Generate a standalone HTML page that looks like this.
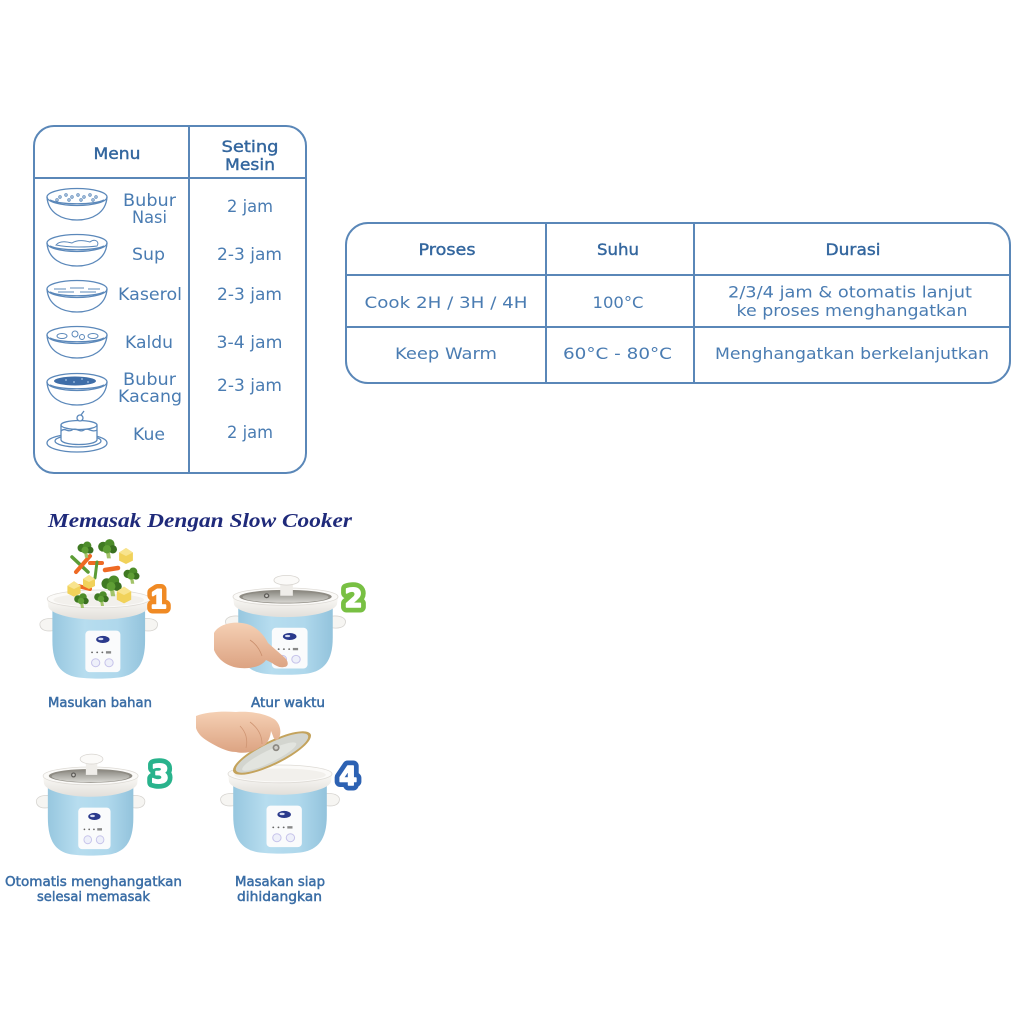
<!DOCTYPE html>
<html><head><meta charset="utf-8">
<style>html,body{margin:0;padding:0;background:#fff}svg{display:block}</style>
</head>
<body>
<svg width="1024" height="1024" viewBox="0 0 1024 1024" xmlns="http://www.w3.org/2000/svg" xmlns:xlink="http://www.w3.org/1999/xlink">
<defs>
 <linearGradient id="blue" x1="0" x2="1" y1="0" y2="0">
  <stop offset="0" stop-color="#97c7df"/><stop offset="0.35" stop-color="#b7ddef"/><stop offset="0.7" stop-color="#afd8ec"/><stop offset="1" stop-color="#93c3dc"/>
 </linearGradient>
 <linearGradient id="rim" x1="0" x2="0" y1="0" y2="1">
  <stop offset="0" stop-color="#fbfaf7"/><stop offset="1" stop-color="#e2dfda"/>
 </linearGradient>
 <linearGradient id="glass" x1="0" x2="0" y1="0" y2="1">
  <stop offset="0" stop-color="#8d8b84"/><stop offset="1" stop-color="#d8d7d2"/>
 </linearGradient>
 <linearGradient id="skin" x1="0" x2="0" y1="0" y2="1">
  <stop offset="0" stop-color="#f5d0b4"/><stop offset="1" stop-color="#dca382"/>
 </linearGradient>
 <g id="cbody">
  <path d="M14,30 C4,29 0,33 1,37 C2,42 8,43 14,42 Z" fill="#f6f5f2" stroke="#d6d4d0" stroke-width="0.8"/>
  <path d="M102,30 C112,29 116,33 115,37 C114,42 108,43 102,42 Z" fill="#f6f5f2" stroke="#d6d4d0" stroke-width="0.8"/>
  <path d="M13,22 L103,22 L103,52 C103,77 94,86 80,89 C68,91 48,91 36,89 C22,86 13,77 13,52 Z" fill="url(#blue)"/>
  <rect x="45" y="42" width="34" height="42" rx="4" fill="#fafbfc"/>
  <ellipse cx="62" cy="51" rx="6.5" ry="3.6" fill="#2b3a8c"/>
  <ellipse cx="60" cy="50.5" rx="2.5" ry="1.2" fill="#d7dcf2"/>
  <circle cx="51.5" cy="64" r="0.9" fill="#666"/><circle cx="56.5" cy="64" r="0.9" fill="#666"/><circle cx="61.5" cy="64" r="0.9" fill="#666"/>
  <rect x="65" y="62.8" width="5" height="2.4" fill="#888"/>
  <circle cx="55" cy="74.5" r="4" fill="#eef0fa" stroke="#c6c3ea" stroke-width="1"/>
  <circle cx="68" cy="74.5" r="4" fill="#eef0fa" stroke="#c6c3ea" stroke-width="1"/>
  <path d="M8,10 L9,18 C12,26 35,31 58,31 C81,31 104,26 107,18 L108,10 Z" fill="url(#rim)"/>
 </g>
 <g id="opentop">
  <ellipse cx="58" cy="10" rx="50" ry="9" fill="#fbfaf8" stroke="#dedbd6" stroke-width="0.8"/>
  <ellipse cx="58" cy="11" rx="44" ry="6.5" fill="#f2f0ec"/>
 </g>
 <g id="lidtop">
  <ellipse cx="58" cy="10" rx="50" ry="9" fill="#fbfaf8" stroke="#dedbd6" stroke-width="0.8"/>
  <ellipse cx="58" cy="10" rx="44" ry="7" fill="#8e8b83"/>
  <ellipse cx="58" cy="10.5" rx="41" ry="5.8" fill="url(#glass)"/>
  <circle cx="40" cy="9" r="2.6" fill="#5e5c58"/><circle cx="40" cy="9" r="1.3" fill="#c9c7c2"/>
  <path d="M53,9 L53,-5 L65,-5 L65,9 Z" fill="#efede9"/>
  <ellipse cx="59" cy="-7" rx="12" ry="5" fill="#fbfaf8" stroke="#d8d5d0" stroke-width="0.8"/>
 </g>
 <g id="bowl" fill="none" stroke="#5b88ba" stroke-width="1.3">
  <ellipse cx="77" cy="10" rx="30" ry="8.5"/>
  <path d="M50,13 C60,18 94,18 104,13"/>
  <path d="M47,10 C48,26 62,33 77,33 C92,33 106,26 107,10"/>
 </g>
 <g id="broc">
  <path d="M-1,2 L0,8 L3,8 L2,2Z" fill="#a3c46a"/>
  <circle cx="-3" cy="-1" r="3.8" fill="#3f7a22"/><circle cx="2" cy="-3" r="3.8" fill="#4d8c2a"/>
  <circle cx="4.5" cy="1" r="3.2" fill="#3a7020"/><circle cx="0" cy="1" r="3.2" fill="#5f9f35"/>
 </g>
 <g id="pot">
  <path d="M-6,-3 L0,-7 L6,-3 L6,4 L0,7 L-6,4 Z" fill="#f1d25a"/>
  <path d="M-6,-3 L0,-7 L6,-3 L0,0 Z" fill="#f8e48e"/>
 </g>
</defs>

<!-- TABLE 1 -->
<g fill="none" stroke="#5a87b8" stroke-width="2">
 <rect x="34" y="126" width="272" height="347" rx="20"/>
 <line x1="189" y1="126" x2="189" y2="473"/>
 <line x1="34" y1="178" x2="306" y2="178"/>
</g>
<g font-family="DejaVu Sans, sans-serif" text-anchor="middle">
 <g fill="#33669e" stroke="#33669e" stroke-width="0.4" font-size="16">
  <text x="117" y="159" textLength="47" lengthAdjust="spacingAndGlyphs">Menu</text>
  <text x="250" y="152" textLength="57" lengthAdjust="spacingAndGlyphs">Seting</text>
  <text x="250" y="170" textLength="50" lengthAdjust="spacingAndGlyphs">Mesin</text>
 </g>
 <g fill="#4a7cb2" font-size="16.5">
  <text x="149.5" y="206" textLength="53" lengthAdjust="spacingAndGlyphs">Bubur</text>
  <text x="149.5" y="223" textLength="35" lengthAdjust="spacingAndGlyphs">Nasi</text>
  <text x="250" y="212" textLength="46" lengthAdjust="spacingAndGlyphs">2 jam</text>
  <text x="148.5" y="260" textLength="33" lengthAdjust="spacingAndGlyphs">Sup</text>
  <text x="249.5" y="260" textLength="65" lengthAdjust="spacingAndGlyphs">2-3 jam</text>
  <text x="150" y="300" textLength="64" lengthAdjust="spacingAndGlyphs">Kaserol</text>
  <text x="249.5" y="300" textLength="65" lengthAdjust="spacingAndGlyphs">2-3 jam</text>
  <text x="149" y="348" textLength="48" lengthAdjust="spacingAndGlyphs">Kaldu</text>
  <text x="249.5" y="348" textLength="66" lengthAdjust="spacingAndGlyphs">3-4 jam</text>
  <text x="149.5" y="385" textLength="53" lengthAdjust="spacingAndGlyphs">Bubur</text>
  <text x="150" y="402" textLength="64" lengthAdjust="spacingAndGlyphs">Kacang</text>
  <text x="249.5" y="391" textLength="65" lengthAdjust="spacingAndGlyphs">2-3 jam</text>
  <text x="149" y="440" textLength="32" lengthAdjust="spacingAndGlyphs">Kue</text>
  <text x="250" y="438" textLength="46" lengthAdjust="spacingAndGlyphs">2 jam</text>
 </g>
</g>

<!-- bowls -->
<use xlink:href="#bowl" href="#bowl" transform="translate(0,187)"/>
<g fill="none" stroke="#5b88ba" stroke-width="1">
 <circle cx="60" cy="197" r="1.2"/><circle cx="66" cy="195" r="1.2"/><circle cx="72" cy="197" r="1.2"/><circle cx="78" cy="195" r="1.2"/><circle cx="84" cy="197" r="1.2"/><circle cx="90" cy="195" r="1.2"/><circle cx="96" cy="197" r="1.2"/><circle cx="69" cy="200" r="1.2"/><circle cx="81" cy="200" r="1.2"/><circle cx="93" cy="200" r="1.2"/><circle cx="57" cy="200" r="1.2"/>
</g>
<use xlink:href="#bowl" href="#bowl" transform="translate(0,233)"/>
<path d="M56,245 C60,240 68,242 72,243 C78,239 86,241 90,242 C95,238 100,242 97,246 C90,247 70,248 56,245 Z" fill="none" stroke="#5b88ba" stroke-width="1"/>
<use xlink:href="#bowl" href="#bowl" transform="translate(0,279)"/>
<g fill="none" stroke="#5b88ba" stroke-width="1">
 <path d="M54,289 L66,289 M70,288 L84,288 M88,289 L100,289 M58,292 L74,292 M80,292 L96,292"/>
</g>
<use xlink:href="#bowl" href="#bowl" transform="translate(0,325)"/>
<g fill="none" stroke="#5b88ba" stroke-width="1">
 <ellipse cx="62" cy="336" rx="5" ry="2.5"/><circle cx="75" cy="334" r="3"/><circle cx="82" cy="337" r="2.5"/><ellipse cx="93" cy="336" rx="5" ry="2.5"/>
</g>
<use xlink:href="#bowl" href="#bowl" transform="translate(0,372)"/>
<ellipse cx="75" cy="381" rx="21" ry="4.5" fill="#3f6ea8"/>
<g fill="#8fb0d6"><circle cx="66" cy="380" r="1"/><circle cx="74" cy="382" r="1"/><circle cx="82" cy="379" r="1"/><circle cx="88" cy="382" r="1"/></g>
<!-- cake -->
<g fill="none" stroke="#5b88ba" stroke-width="1.3">
 <ellipse cx="77" cy="443" rx="30" ry="9"/>
 <ellipse cx="78" cy="441" rx="23" ry="6"/>
 <path d="M61,425 L61,440 C63,446 95,446 97,440 L97,425" fill="#fff"/>
 <ellipse cx="79" cy="425" rx="18" ry="4.5" fill="#fff"/>
 <path d="M61,431 C65,427 68,433 72,430 C76,427 80,433 84,430 C88,427 92,433 97,430"/>
 <circle cx="80" cy="418" r="3" fill="#fff"/>
 <path d="M81,415 L84,411"/>
</g>

<!-- TABLE 2 -->
<g fill="none" stroke="#5a87b8" stroke-width="2">
 <rect x="346" y="223" width="664" height="160" rx="22"/>
 <line x1="546" y1="223" x2="546" y2="383"/>
 <line x1="694" y1="223" x2="694" y2="383"/>
 <line x1="346" y1="275" x2="1010" y2="275"/>
 <line x1="346" y1="327" x2="1010" y2="327"/>
</g>
<g font-family="DejaVu Sans, sans-serif" text-anchor="middle">
 <g fill="#33669e" stroke="#33669e" stroke-width="0.4" font-size="16">
  <text x="447" y="255" textLength="57" lengthAdjust="spacingAndGlyphs">Proses</text>
  <text x="618" y="255" textLength="42" lengthAdjust="spacingAndGlyphs">Suhu</text>
  <text x="853" y="255" textLength="55" lengthAdjust="spacingAndGlyphs">Durasi</text>
 </g>
 <g fill="#4a7cb2" font-size="16">
  <text x="446" y="308" textLength="163" lengthAdjust="spacingAndGlyphs">Cook 2H / 3H / 4H</text>
  <text x="618" y="308" textLength="51" lengthAdjust="spacingAndGlyphs">100°C</text>
  <text x="850" y="297.5" textLength="244" lengthAdjust="spacingAndGlyphs">2/3/4 jam &amp; otomatis lanjut</text>
  <text x="852" y="316" textLength="231" lengthAdjust="spacingAndGlyphs">ke proses menghangatkan</text>
  <text x="446" y="359" textLength="102" lengthAdjust="spacingAndGlyphs">Keep Warm</text>
  <text x="617.5" y="359" textLength="109" lengthAdjust="spacingAndGlyphs">60°C - 80°C</text>
  <text x="852" y="359" textLength="274" lengthAdjust="spacingAndGlyphs">Menghangatkan berkelanjutkan</text>
 </g>
</g>

<!-- TITLE -->
<text x="48" y="527" font-family="Liberation Serif, serif" font-weight="bold" font-style="italic" font-size="20" fill="#1f2a7a" textLength="304" lengthAdjust="spacingAndGlyphs">Memasak Dengan Slow Cooker</text>

<!-- COOKER 1 -->
<g transform="translate(39,589) scale(1.03,0.99)">
 <use xlink:href="#cbody" href="#cbody"/>
 <use xlink:href="#opentop" href="#opentop"/>
</g>
<!-- vegetables -->
<g stroke-linecap="round">
 <line x1="72" y1="557" x2="88" y2="572" stroke="#5c9c36" stroke-width="3.5"/>
 <line x1="76" y1="572" x2="90" y2="556" stroke="#ee6a24" stroke-width="4"/>
 <line x1="90" y1="563" x2="102" y2="563" stroke="#ee6a24" stroke-width="4"/>
 <line x1="97" y1="562" x2="95" y2="578" stroke="#5c9c36" stroke-width="3"/>
 <line x1="105" y1="570" x2="118" y2="568" stroke="#ee6a24" stroke-width="4.5"/>
 <line x1="78" y1="586" x2="90" y2="589" stroke="#ee6a24" stroke-width="4"/>
</g>
<use xlink:href="#broc" href="#broc" transform="translate(85,549) scale(1.1)"/>
<use xlink:href="#broc" href="#broc" transform="translate(107,548) scale(1.3)"/>
<use xlink:href="#pot" href="#pot" transform="translate(126,556) scale(1.15)"/>
<use xlink:href="#broc" href="#broc" transform="translate(131,575) scale(1.1)"/>
<use xlink:href="#broc" href="#broc" transform="translate(111,585) scale(1.4)"/>
<use xlink:href="#pot" href="#pot" transform="translate(89,582)"/>
<use xlink:href="#pot" href="#pot" transform="translate(74,589) scale(1.1)"/>
<use xlink:href="#pot" href="#pot" transform="translate(124,595) scale(1.2)"/>
<use xlink:href="#broc" href="#broc" transform="translate(101,598)"/>
<use xlink:href="#broc" href="#broc" transform="translate(81,600)"/>

<!-- COOKER 2 -->
<g transform="translate(224.6,587) scale(1.05,0.97)">
 <use xlink:href="#cbody" href="#cbody"/>
 <use xlink:href="#lidtop" href="#lidtop"/>
</g>
<path d="M214,633 C220,622 240,620 252,626 C260,630 265,637 268,643 L284,657 C289,661 289,667 284,667 C280,668 276,666 272,663 L266,660 C262,666 252,669 240,668 C228,667 218,660 214,650 Z" fill="url(#skin)"/>
<path d="M250,640 C256,644 260,650 262,656" fill="none" stroke="#c98e6c" stroke-width="0.8"/>

<!-- COOKER 3 -->
<g transform="translate(35.5,766) scale(0.95,0.99)">
 <use xlink:href="#cbody" href="#cbody"/>
 <use xlink:href="#lidtop" href="#lidtop"/>
</g>

<!-- COOKER 4 -->
<g transform="translate(219.7,764) scale(1.04,0.99)">
 <use xlink:href="#cbody" href="#cbody"/>
 <use xlink:href="#opentop" href="#opentop"/>
</g>
<g transform="translate(272,753) rotate(-26)">
 <ellipse cx="0" cy="0" rx="43" ry="12" fill="#c4a35c"/>
 <ellipse cx="0" cy="0" rx="40" ry="10" fill="#d3d5cf"/>
 <ellipse cx="-4" cy="2" rx="30" ry="6" fill="#e2e4df"/>
 <circle cx="6" cy="-3" r="3.5" fill="#8a8780"/><circle cx="6" cy="-3" r="1.8" fill="#d0cec8"/>
</g>
<path d="M196,716 C206,712 222,711 236,712 C252,711 266,714 274,719 C280,723 282,732 279,738 C277,741 274,740 273,736 L271,731 C270,740 266,746 260,747 C254,752 244,754 236,752 C226,752 214,745 206,740 C201,737 197,732 196,728 Z" fill="url(#skin)"/>
<path d="M250,722 C258,728 262,736 262,744 M240,726 C246,732 248,740 246,748" fill="none" stroke="#cf9573" stroke-width="0.8"/>

<!-- NUMBERS -->
<g font-weight="bold" text-anchor="middle" stroke-linejoin="round">
 <g font-family="Liberation Sans, sans-serif" font-size="27">
  <text x="158.5" y="608" fill="#f08a24" stroke="#f08a24" stroke-width="11">1</text>
  <text x="158.5" y="608" fill="#fff" stroke="#fff" stroke-width="2">1</text>
 </g>
 <g font-family="DejaVu Sans, sans-serif" font-size="26">
  <text x="353.5" y="607" fill="#78c043" stroke="#78c043" stroke-width="11">2</text>
  <text x="353.5" y="607" fill="#fff" stroke="#fff" stroke-width="1.5">2</text>
  <text x="160" y="783" fill="#29b38c" stroke="#29b38c" stroke-width="11">3</text>
  <text x="160" y="783" fill="#fff" stroke="#fff" stroke-width="1.5">3</text>
  <text x="348" y="785" fill="#2d62b3" stroke="#2d62b3" stroke-width="11">4</text>
  <text x="348" y="785" fill="#fff" stroke="#fff" stroke-width="1.5">4</text>
 </g>
</g>

<!-- CAPTIONS -->
<g font-family="DejaVu Sans, sans-serif" font-size="13.5" text-anchor="middle" fill="#3b6ea6" stroke="#3b6ea6" stroke-width="0.5">
 <text x="100" y="707" textLength="104" lengthAdjust="spacingAndGlyphs">Masukan bahan</text>
 <text x="288" y="707" textLength="74" lengthAdjust="spacingAndGlyphs">Atur waktu</text>
 <text x="93.5" y="886" textLength="177" lengthAdjust="spacingAndGlyphs">Otomatis menghangatkan</text>
 <text x="93.5" y="901" textLength="113" lengthAdjust="spacingAndGlyphs">selesai memasak</text>
 <text x="280" y="886" textLength="90" lengthAdjust="spacingAndGlyphs">Masakan siap</text>
 <text x="279.5" y="901" textLength="85" lengthAdjust="spacingAndGlyphs">dihidangkan</text>
</g>
</svg>
</body></html>
